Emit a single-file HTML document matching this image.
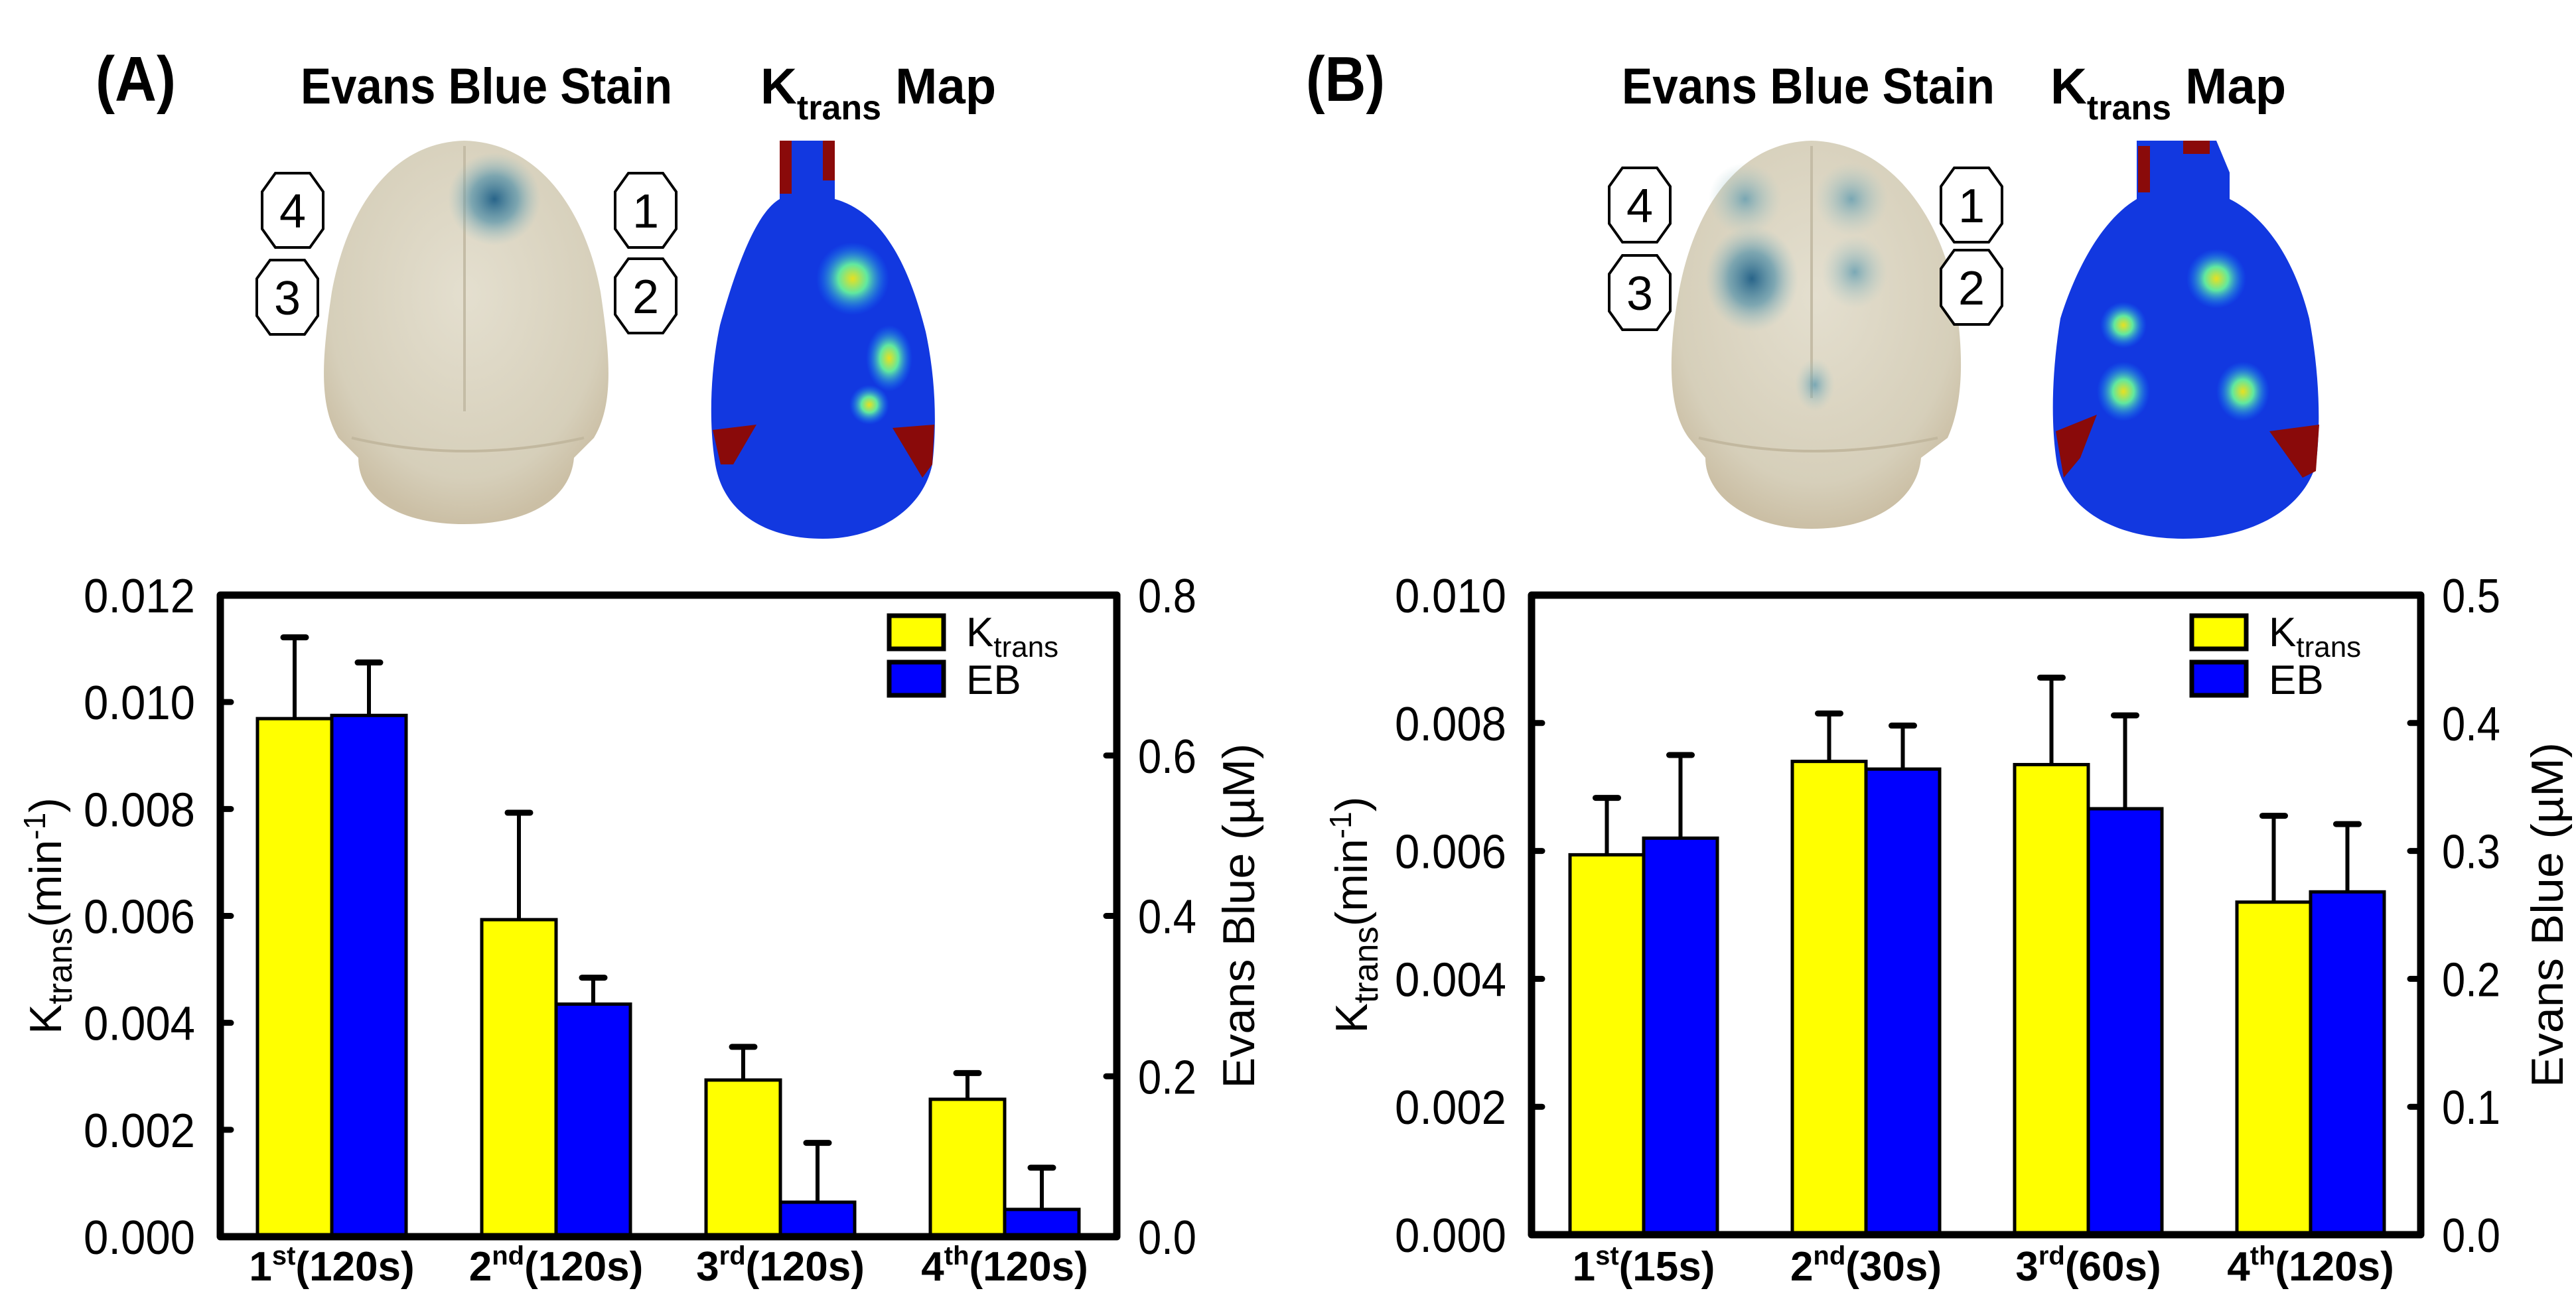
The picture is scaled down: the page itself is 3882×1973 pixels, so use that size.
<!DOCTYPE html>
<html><head><meta charset="utf-8"><style>
html,body{margin:0;padding:0;background:#fff;}
svg{display:block;}
</style></head><body>
<svg id="fig" width="3882" height="1973" viewBox="0 0 3882 1973" xmlns="http://www.w3.org/2000/svg">
<defs>
<radialGradient id="brainFill" cx="50%" cy="40%" r="60%">
<stop offset="0" stop-color="#e4dfcf"/><stop offset="0.8" stop-color="#d6cfba"/><stop offset="1" stop-color="#cbbfa5"/>
</radialGradient>
<radialGradient id="blueSpot" cx="50%" cy="50%" r="50%">
<stop offset="0" stop-color="#1f5e86" stop-opacity="0.95"/><stop offset="0.5" stop-color="#3e86a4" stop-opacity="0.6"/><stop offset="1" stop-color="#8fbcc4" stop-opacity="0"/>
</radialGradient>
<radialGradient id="blueSpotLight" cx="50%" cy="50%" r="50%">
<stop offset="0" stop-color="#4f93ad" stop-opacity="0.7"/><stop offset="1" stop-color="#a6c8c8" stop-opacity="0"/>
</radialGradient>
<radialGradient id="hotspot" cx="50%" cy="50%" r="50%">
<stop offset="0" stop-color="#e8e020"/><stop offset="0.4" stop-color="#60e8a0"/><stop offset="1" stop-color="#1080ff" stop-opacity="0"/>
</radialGradient>
</defs>

<g font-family="Liberation Sans, sans-serif" font-weight="bold" fill="#000">
<text x="144" y="152" font-size="96" textLength="121" lengthAdjust="spacingAndGlyphs">(A)</text>
<text x="453" y="156" font-size="76" textLength="560" lengthAdjust="spacingAndGlyphs">Evans Blue Stain</text>
<text x="1146" y="156" font-size="76">K<tspan font-size="52" dy="24">trans</tspan><tspan dy="-24"> Map</tspan></text>
<text x="1968" y="152" font-size="96" textLength="119" lengthAdjust="spacingAndGlyphs">(B)</text>
<text x="2444" y="156" font-size="76" textLength="562" lengthAdjust="spacingAndGlyphs">Evans Blue Stain</text>
<text x="3090" y="156" font-size="76">K<tspan font-size="52" dy="24">trans</tspan><tspan dy="-24"> Map</tspan></text>
</g>

<g>
<path d="M700 212 C580 215 520 330 500 440 C485 540 480 610 510 660 L540 690 C540 750 600 790 700 790 C800 790 860 750 865 690 L895 660 C925 610 920 540 905 440 C885 330 820 215 700 212 Z" fill="url(#brainFill)"/>
<path d="M700 220 L700 620" stroke="#c4bca6" stroke-width="4"/>
<path d="M530 660 Q700 700 880 660" stroke="#c2b89f" stroke-width="4" fill="none"/>
<ellipse cx="745" cy="300" rx="70" ry="70" fill="url(#blueSpot)"/>
</g>
<g>
<path d="M1175 212 L1258 212 L1258 300 C1330 320 1370 400 1395 500 C1410 570 1412 640 1405 700 C1390 770 1320 812 1240 812 C1150 812 1090 770 1078 700 C1068 640 1070 560 1085 490 C1110 400 1140 320 1175 300 Z" fill="#1238e0"/>
<rect x="1175" y="212" width="18" height="80" fill="#8a0a0a"/>
<rect x="1240" y="212" width="18" height="60" fill="#8a0a0a"/>
<ellipse cx="1285" cy="420" rx="55" ry="55" fill="url(#hotspot)"/>
<ellipse cx="1340" cy="540" rx="35" ry="50" fill="url(#hotspot)"/>
<ellipse cx="1310" cy="610" rx="30" ry="30" fill="url(#hotspot)"/>
<path d="M1074 648 L1140 640 L1105 700 L1086 700 Z" fill="#8a0a0a"/>
<path d="M1408 640 L1345 645 L1390 720 L1405 700 Z" fill="#8a0a0a"/>
</g>

<g>
<path d="M2730 212 C2610 215 2550 330 2530 440 C2512 540 2515 620 2545 660 L2570 690 C2570 750 2640 797 2730 797 C2830 797 2890 750 2895 690 L2935 660 C2962 600 2958 520 2945 440 C2925 330 2850 215 2730 212 Z" fill="url(#brainFill)"/>
<path d="M2730 220 L2730 600" stroke="#c4bca6" stroke-width="4"/>
<path d="M2560 660 Q2730 700 2920 660" stroke="#c2b89f" stroke-width="4" fill="none"/>
<ellipse cx="2640" cy="420" rx="70" ry="80" fill="url(#blueSpot)"/>
<ellipse cx="2630" cy="300" rx="55" ry="55" fill="url(#blueSpotLight)"/>
<ellipse cx="2790" cy="300" rx="55" ry="55" fill="url(#blueSpotLight)"/>
<ellipse cx="2795" cy="410" rx="50" ry="55" fill="url(#blueSpotLight)"/>
<ellipse cx="2735" cy="580" rx="30" ry="40" fill="url(#blueSpotLight)"/>
</g>
<g>
<path d="M3220 212 L3340 212 L3360 260 L3360 300 C3420 330 3460 400 3480 480 C3495 560 3498 640 3490 700 C3470 770 3390 812 3290 812 C3190 812 3115 770 3100 700 C3090 640 3092 560 3105 480 C3130 400 3170 330 3220 300 Z" fill="#1238e0"/>
<rect x="3222" y="220" width="18" height="70" fill="#8a0a0a"/>
<rect x="3290" y="212" width="40" height="20" fill="#8a0a0a"/>
<ellipse cx="3340" cy="420" rx="45" ry="45" fill="url(#hotspot)"/>
<ellipse cx="3200" cy="490" rx="35" ry="35" fill="url(#hotspot)"/>
<ellipse cx="3200" cy="590" rx="40" ry="45" fill="url(#hotspot)"/>
<ellipse cx="3380" cy="590" rx="40" ry="45" fill="url(#hotspot)"/>
<path d="M3098 650 L3160 625 L3135 690 L3110 720 Z" fill="#8a0a0a"/>
<path d="M3495 640 L3420 650 L3470 720 L3490 710 Z" fill="#8a0a0a"/>
</g>

<g id="octagons"></g>
<g id="chartA"></g>
<g id="chartB"></g>
</svg>
<script>
// ---------- Chart A data ----------
const categoriesA = ["1", "2", "3", "4"];
const supA = ["st", "nd", "rd", "th"];
const suffixA = ["(120s)", "(120s)", "(120s)", "(120s)"];
const ktransA = [0.00969, 0.00593, 0.00293, 0.00257];
const ktransErrA = [0.00152, 0.00200, 0.00062, 0.00049];
const ebA = [0.650, 0.290, 0.043, 0.034];
const ebErrA = [0.066, 0.033, 0.074, 0.052];
const leftTicksA = ["0.000", "0.002", "0.004", "0.006", "0.008", "0.010", "0.012"];
const rightTicksA = ["0.0", "0.2", "0.4", "0.6", "0.8"];

// ---------- Chart B data ----------
const categoriesB = ["1", "2", "3", "4"];
const supB = ["st", "nd", "rd", "th"];
const suffixB = ["(15s)", "(30s)", "(60s)", "(120s)"];
const ktransB = [0.00594, 0.00740, 0.00735, 0.00520];
const ktransErrB = [0.00089, 0.00075, 0.00136, 0.00135];
const ebB = [0.310, 0.364, 0.333, 0.268];
const ebErrB = [0.065, 0.034, 0.073, 0.053];
const leftTicksB = ["0.000", "0.002", "0.004", "0.006", "0.008", "0.010"];
const rightTicksB = ["0.0", "0.1", "0.2", "0.3", "0.4", "0.5"];

const NS = "http://www.w3.org/2000/svg";
function mk(tag, attrs, parent) {
  const e = document.createElementNS(NS, tag);
  for (const k in attrs) e.setAttribute(k, attrs[k]);
  parent.appendChild(e);
  return e;
}

const octLabels = ["4", "3", "1", "2", "4", "3", "1", "2"];
const octX = [441, 433, 973, 973, 2471, 2471, 2971, 2971];
const octY = [317, 448, 317, 446, 309, 441, 309, 433];
const octG = document.getElementById("octagons");
for (let i = 0; i < octLabels.length; i++) {
  const cx = octX[i], cy = octY[i], w = 46, h = 56, c = 20;
  const p = mk("polygon", {points: [
    [cx - w + c, cy - h], [cx + w - c, cy - h], [cx + w, cy - h + c * 1.4], [cx + w, cy + h - c * 1.4],
    [cx + w - c, cy + h], [cx - w + c, cy + h], [cx - w, cy + h - c * 1.4], [cx - w, cy - h + c * 1.4]
  ].map(q => q.join(",")).join(" "), fill: "#fff", stroke: "#000", "stroke-width": 4}, octG);
  
  
  const t = mk("text", {x: cx, y: cy + 26, "text-anchor": "middle", "font-size": 72, "font-family": "Liberation Sans, sans-serif"}, octG);
  t.textContent = octLabels[i];
  
  
}

function drawChart(g, cfg, cats, sups, sufs, kv, ke, ev, ee, lt, rt) {
  const yK = v => cfg.bottom - v / cfg.kMax * (cfg.bottom - cfg.top);
  const yE = v => cfg.bottom - v / cfg.eMax * (cfg.bottom - cfg.top);
  const font = "Liberation Sans, sans-serif";
  for (let i = 0; i < cats.length; i++) {
    const x0 = cfg.x0 + i * cfg.step;
    const bars = [[x0, kv[i], ke[i], yK, "#ffff00", "ktrans"], [x0 + cfg.bw, ev[i], ee[i], yE, "#0000ff", "eb"]];
    for (const b of bars) {
      const yt = b[3](b[1]);
      const yErr = b[3](b[1] + b[2]);
      const cx = b[0] + cfg.bw / 2;
      const er = mk("line", {x1: cx, x2: cx, y1: yt, y2: yErr, stroke: "#000", "stroke-width": 6}, g);
      
      
      const cap = mk("line", {x1: cx - 17, x2: cx + 17, y1: yErr, y2: yErr, stroke: "#000", "stroke-width": 9, "stroke-linecap": "round"}, g);
      
      
      const r = mk("rect", {x: b[0], y: yt, width: cfg.bw, height: cfg.bottom - yt, fill: b[4], stroke: "#000", "stroke-width": 5}, g);
      
      
    }
    const t = mk("text", {x: x0 + cfg.bw, y: 1930, "text-anchor": "middle", "font-size": 62, "font-weight": "bold", "font-family": font}, g);
    
    
    t.appendChild(document.createTextNode(cats[i]));
    const s = mk("tspan", {"font-size": 40, dy: -24}, t);
    s.textContent = sups[i];
    const s2 = mk("tspan", {dy: 24}, t);
    s2.textContent = sufs[i];
  }
  const box = mk("path", {d: `M${cfg.left} ${cfg.top} L${cfg.right} ${cfg.top} L${cfg.right} ${cfg.bottom} L${cfg.left} ${cfg.bottom} Z`, fill: "none", stroke: "#000", "stroke-width": 11, "stroke-linejoin": "round"}, g);
  
  
  for (let i = 0; i < lt.length; i++) {
    const v = parseFloat(lt[i]);
    const y = yK(v);
    if (i > 0 && i < lt.length - 1) {
      const tk = mk("line", {x1: cfg.left, x2: cfg.left + 16, y1: y, y2: y, stroke: "#000", "stroke-width": 9, "stroke-linecap": "round"}, g);
      
      
    }
    const t = mk("text", {x: cfg.left - 38, y: y + 26, "text-anchor": "end", "font-size": 72, "font-family": font, textLength: 168, lengthAdjust: "spacingAndGlyphs"}, g);
    t.textContent = lt[i];
    
    
  }
  for (let i = 0; i < rt.length; i++) {
    const v = parseFloat(rt[i]);
    const y = yE(v);
    if (i > 0 && i < rt.length - 1) {
      const tk = mk("line", {x1: cfg.right - 16, x2: cfg.right, y1: y, y2: y, stroke: "#000", "stroke-width": 9, "stroke-linecap": "round"}, g);
      
      
    }
    const t = mk("text", {x: cfg.right + 32, y: y + 26, "text-anchor": "start", "font-size": 72, "font-family": font, textLength: 88, lengthAdjust: "spacingAndGlyphs"}, g);
    t.textContent = rt[i];
    
    
  }
  const my = (cfg.top + cfg.bottom) / 2;
  const lt1 = mk("text", {x: 0, y: 0, transform: `translate(${cfg.lTitleX},${my}) rotate(-90)`, "text-anchor": "middle", "font-size": 68, "font-family": font}, g);
  
  
  lt1.appendChild(document.createTextNode("K"));
  const sb = mk("tspan", {"font-size": 52, dy: 16}, lt1); sb.textContent = "trans";
  const sc = mk("tspan", {dy: -16}, lt1); sc.textContent = "(min";
  const sd = mk("tspan", {"font-size": 46, dy: -24}, lt1); sd.textContent = "-1";
  const se = mk("tspan", {dy: 24}, lt1); se.textContent = ")";
  const rt1 = mk("text", {x: 0, y: 0, transform: `translate(${cfg.rTitleX},${my}) rotate(-90)`, "text-anchor": "middle", "font-size": 68, "font-family": font, textLength: 520, lengthAdjust: "spacingAndGlyphs"}, g);
  rt1.textContent = "Evans Blue (\u00b5M)";
  
  
  const l1 = mk("rect", {x: cfg.legX, y: 928, width: 82, height: 50, fill: "#ffff00", stroke: "#000", "stroke-width": 7}, g);
  
  
  const l2 = mk("rect", {x: cfg.legX, y: 998, width: 82, height: 50, fill: "#0000ff", stroke: "#000", "stroke-width": 7}, g);
  
  
  const lt2 = mk("text", {x: cfg.legX + 116, y: 974, "font-size": 62, "font-family": font}, g);
  
  
  lt2.appendChild(document.createTextNode("K"));
  const lsub = mk("tspan", {"font-size": 44, dy: 16}, lt2); lsub.textContent = "trans";
  const lt3 = mk("text", {x: cfg.legX + 116, y: 1046, "font-size": 62, "font-family": font}, g);
  lt3.textContent = "EB";
  
  
}

const gA = document.getElementById("chartA");


drawChart(gA, {left: 332, right: 1683, top: 897, bottom: 1864, kMax: 0.012, eMax: 0.8, x0: 388, step: 338, bw: 112, lTitleX: 92, rTitleX: 1890, legX: 1340},
  categoriesA, supA, suffixA, ktransA, ktransErrA, ebA, ebErrA, leftTicksA, rightTicksA);

const gB = document.getElementById("chartB");


drawChart(gB, {left: 2308, right: 3648, top: 897, bottom: 1861, kMax: 0.010, eMax: 0.5, x0: 2366, step: 335, bw: 111, lTitleX: 2060, rTitleX: 3862, legX: 3303},
  categoriesB, supB, suffixB, ktransB, ktransErrB, ebB, ebErrB, leftTicksB, rightTicksB);
</script>
</body></html>
